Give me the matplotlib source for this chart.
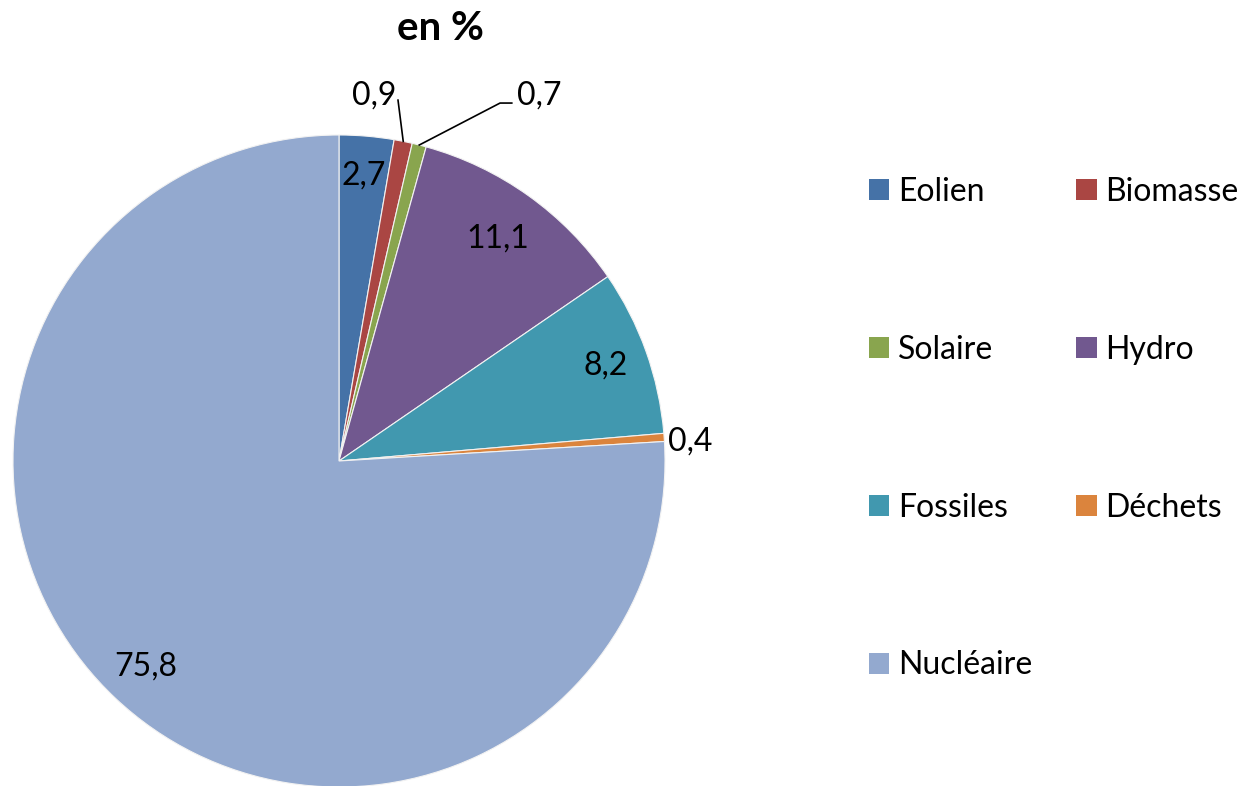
import matplotlib
matplotlib.use("Agg")
import matplotlib.pyplot as plt
from matplotlib.patches import Patch
import numpy as np

plt.rcParams['font.family'] = ['Lato', 'DejaVu Sans']

categories = ["Eolien", "Biomasse", "Solaire", "Hydro", "Fossiles", "Déchets", "Nucléaire"]
values = [2.7, 0.9, 0.7, 11.1, 8.2, 0.4, 75.8]
labels = ["2,7", "0,9", "0,7", "11,1", "8,2", "0,4", "75,8"]
colors = ["#4572A7", "#AA4643", "#89A54E", "#71588F", "#4198AF", "#DB843D", "#93A9CF"]
title = "en %"

W, H = 1258, 786
fig = plt.figure(figsize=(W / 100, H / 100), dpi=100)

cx, cy, R = 339, 461, 326
ax = fig.add_axes([(cx - R) / W, (H - cy - R) / H, 2 * R / W, 2 * R / H])
ax.set_axis_off()

wedges, _ = ax.pie(values, colors=colors, startangle=90, counterclock=False,
                   radius=1, center=(0, 0), frame=False,
                   wedgeprops=dict(edgecolor="#F2F2F2", linewidth=0.8))
ax.set_xlim(-1, 1)
ax.set_ylim(-1, 1)
ax.set_aspect('auto')

fs = 23
total = sum(values)
cum = np.cumsum([0] + values)
mids = [90 - (cum[i] + values[i] / 2) / total * 360 for i in range(len(values))]

# inside labels
for i, rf in [(0, 0.88), (3, 0.84), (4, 0.87), (6, 0.865)]:
    a = np.deg2rad(mids[i])
    ax.text(rf * np.cos(a), rf * np.sin(a), labels[i], ha='center', va='center', fontsize=fs)

# outside labels with leaders
a = np.deg2rad(mids[1])
ax.plot([np.cos(a), 0.181], [np.sin(a), 1.107], color='black', lw=1.2, clip_on=False)
ax.text(0.107, 1.12, labels[1], ha='center', va='center', fontsize=fs, clip_on=False)
a = np.deg2rad(mids[2])
ax.plot([np.cos(a), 0.494, 0.53], [np.sin(a), 1.098, 1.098], color='black', lw=1.2, clip_on=False)
ax.text(0.615, 1.12, labels[2], ha='center', va='center', fontsize=fs, clip_on=False)
ax.text(1.01, 0.06, labels[5], ha='left', va='center', fontsize=fs, clip_on=False)

fig.text(440 / W, 1 - 28 / H, title, ha='center', va='center', fontsize=29, fontweight='bold')

order = [0, 2, 4, 6, 1, 3, 5]
handles = [Patch(facecolor=colors[i], edgecolor='none') for i in order]
fig.legend(handles, [categories[i] for i in order], ncol=2, frameon=False,
           loc='upper left', bbox_to_anchor=(869 / W, 1 - 177 / H),
           fontsize=fs, handlelength=0.63, handleheight=0.63, handletextpad=0.28,
           labelspacing=4.0, columnspacing=1.38, borderaxespad=0, borderpad=0)

fig.savefig("out.png", dpi=100)
